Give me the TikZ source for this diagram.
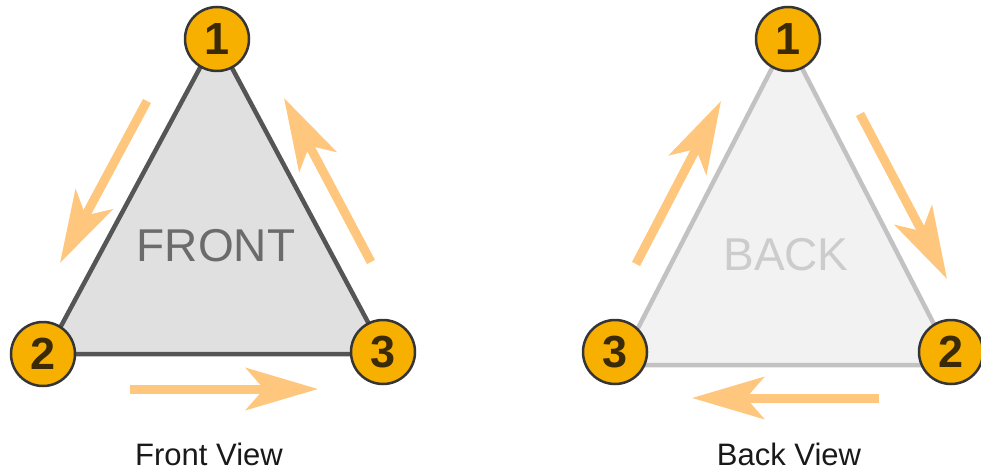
\documentclass[tikz,border=0pt]{standalone}
\usepackage{fontspec}
\setmainfont{Liberation Sans}
\usetikzlibrary{arrows.meta}
\definecolor{amber}{HTML}{F7B000}
\definecolor{ring}{HTML}{353535}
\definecolor{digit}{HTML}{3A2A08}
\definecolor{arrowc}{HTML}{FFC67E}
\definecolor{frontedge}{HTML}{555555}
\definecolor{frontfill}{HTML}{E0E0E0}
\definecolor{backedge}{HTML}{C2C2C2}
\definecolor{backfill}{HTML}{F2F2F2}
\tikzset{
  num/.style={circle, draw=ring, line width=2.5pt, fill=amber, minimum size=64pt, inner sep=0pt,
    text=digit, font=\bfseries\fontsize{45}{45}\selectfont},
  flow/.style={draw=arrowc, line width=9pt, -{Stealth[length=72pt, width=42pt, inset=18pt]}},
  bigword/.style={inner sep=0pt, font=\fontsize{46}{46}\selectfont},
  caption/.style={anchor=base, inner sep=0pt, text=black!90, font=\fontsize{31}{31}\selectfont}
}
\begin{document}
\begin{tikzpicture}[x=1pt, y=-1pt]
\useasboundingbox (0,0) rectangle (981,470);
% front triangle
\coordinate (fa) at (216,38);
\coordinate (fb) at (46,354);
\coordinate (fc) at (385,354);
\filldraw[fill=frontfill, draw=frontedge, line width=4.5pt, line join=round] (fa) -- (fb) -- (fc) -- cycle;
% back triangle
\coordinate (ba) at (787,39);
\coordinate (bb) at (619,365);
\coordinate (bc) at (955,365);
\filldraw[fill=backfill, draw=backedge, line width=4.5pt, line join=round] (ba) -- (bb) -- (bc) -- cycle;
% texts
\node[bigword, text=black!58] (front) at (216,246) {FRONT};
\node[bigword, text=black!20] (back) at (786,255) {BACK};
% circles
\node[num] (f1) at (217,39) {1};
\node[num] (f2) at (43,354) {2};
\node[num] (f3) at (383,352) {3};
\node[num] (b1) at (788,39) {1};
\node[num] (b3) at (615,352) {3};
\node[num] (b2) at (951,352) {2};
% arrows front
\coordinate (fl0) at (147,101);
\coordinate (fl1) at (60,263);
\coordinate (fr0) at (371,262);
\coordinate (fr1) at (284,98);
\coordinate (fd0) at (130,389);
\coordinate (fd1) at (318,389);
\draw[flow] (fl0) -- (fl1);
\draw[flow] (fr0) -- (fr1);
\draw[flow] (fd0) -- (fd1);
% arrows back
\coordinate (bl0) at (636,264);
\coordinate (bl1) at (721,101);
\coordinate (br0) at (860,114);
\coordinate (br1) at (947,279);
\coordinate (bd0) at (879,398);
\coordinate (bd1) at (692,398);
\draw[flow] (bl0) -- (bl1);
\draw[flow] (br0) -- (br1);
\draw[flow] (bd0) -- (bd1);
% captions
\node[caption] (fv) at (209,465) {Front View};
\node[caption] (bv) at (789,465) {Back View};
\end{tikzpicture}
\end{document}
